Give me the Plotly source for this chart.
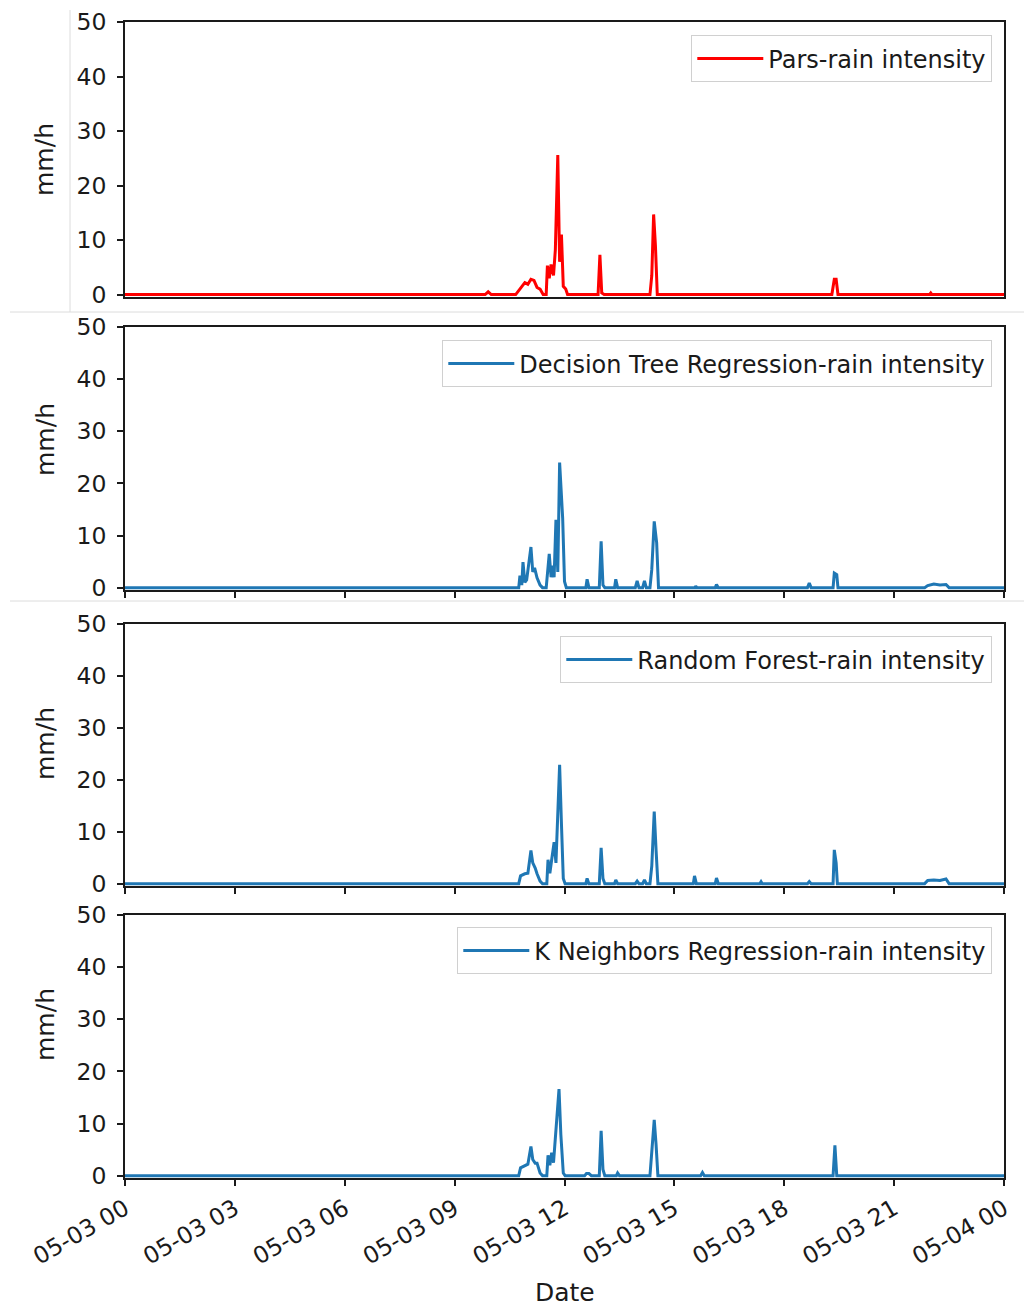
import plotly.graph_objects as go

# ---------------- data (hour:minute on 2023-05-03, value in mm/h) ----------------
pars_t = ["00:00", "09:50", "09:55", "10:00", "10:40", "10:45", "10:50", "10:55", "11:00", "11:05",
          "11:10", "11:15", "11:20", "11:25", "11:30", "11:32", "11:35", "11:38", "11:42", "11:45",
          "11:49", "11:52", "11:55", "11:58", "12:02", "12:05", "12:55", "12:58", "13:01", "13:05",
          "14:20", "14:23", "14:26", "14:29", "14:32", "19:18", "19:22", "19:25", "19:28", "21:58",
          "22:00", "22:02", "24:00"]
pars_v = [0, 0, 0.5, 0, 0, 0.8, 1.5, 2.2, 1.9, 2.8,
          2.6, 1.3, 1.0, 0, 0, 5.3, 3.0, 5.5, 3.5, 8.2,
          25.6, 6.0, 11.0, 1.5, 1.0, 0, 0, 7.3, 0.3, 0,
          0, 3.5, 14.7, 8.9, 0, 0, 2.8, 2.8, 0, 0,
          0.3, 0, 0]

dt_t = ["00:00", "10:45", "10:47", "10:50", "10:52", "10:55", "10:58", "11:05", "11:08", "11:11",
        "11:15", "11:20", "11:24", "11:30", "11:35", "11:38", "11:40", "11:43", "11:46", "11:49",
        "11:52", "11:57", "12:00", "12:03", "12:35", "12:37", "12:40", "12:57", "13:00", "13:03",
        "13:06", "13:22", "13:24", "13:27", "13:56", "13:59", "14:02", "14:08", "14:11", "14:14",
        "14:20", "14:23", "14:27", "14:31", "14:34", "15:34", "15:35", "15:37", "16:07", "16:09",
        "16:12", "18:38", "18:41", "18:44", "19:20", "19:22", "19:26", "19:28", "21:50", "21:55",
        "22:05", "22:15", "22:25", "22:30", "24:00"]
dt_v = [0, 0, 2.3, 0.5, 4.9, 1.0, 1.5, 7.8, 3.0, 3.8,
        1.9, 0.5, 0, 0, 6.5, 2.0, 4.2, 2.0, 13.0, 3.0,
        24.0, 13.3, 1.2, 0, 0, 1.6, 0, 0, 8.9, 0.5,
        0, 0, 1.6, 0, 0, 1.3, 0, 0, 1.3, 0,
        0, 3.5, 12.7, 8.6, 0, 0, 0.3, 0, 0, 0.6,
        0, 0, 0.9, 0, 0, 2.8, 2.5, 0, 0, 0.4,
        0.7, 0.5, 0.6, 0, 0]

rf_t = ["00:00", "10:45", "10:48", "10:55", "11:00", "11:05", "11:08", "11:12", "11:15", "11:20",
        "11:24", "11:31", "11:33", "11:36", "11:39", "11:43", "11:46", "11:52", "11:55", "11:58",
        "12:01", "12:35", "12:37", "12:40", "12:57", "13:00", "13:03", "13:06", "13:22", "13:24",
        "13:27", "13:56", "13:59", "14:02", "14:08", "14:11", "14:14", "14:20", "14:23", "14:27",
        "14:30", "14:33", "15:31", "15:33", "15:36", "16:07", "16:09", "16:12", "17:20", "17:22",
        "17:24", "18:38", "18:41", "18:44", "19:20", "19:22", "19:25", "19:27", "21:50", "21:55",
        "22:05", "22:15", "22:25", "22:30", "24:00"]
rf_v = [0, 0, 1.5, 1.9, 2.0, 6.4, 4.0, 3.0, 1.9, 0.5,
        0, 0, 4.6, 2.0, 4.6, 8.0, 4.0, 22.9, 11.5, 1.0,
        0, 0, 1.0, 0, 0, 6.9, 1.0, 0, 0, 0.7,
        0, 0, 0.5, 0, 0, 0.7, 0, 0, 3.4, 13.9,
        6.5, 0, 0, 1.5, 0, 0, 1.1, 0, 0, 0.4,
        0, 0, 0.4, 0, 0, 6.5, 4.0, 0, 0, 0.6,
        0.7, 0.6, 0.9, 0, 0]

knn_t = ["00:00", "10:45", "10:48", "10:55", "11:00", "11:05", "11:08", "11:12", "11:15", "11:20",
         "11:24", "11:31", "11:33", "11:36", "11:39", "11:42", "11:45", "11:51", "11:54", "11:58",
         "12:01", "12:33", "12:36", "12:40", "12:44", "12:57", "13:00", "13:03", "13:06", "13:25",
         "13:27", "13:30", "14:20", "14:23", "14:27", "14:30", "14:33", "15:43", "15:46", "15:49",
         "19:20", "19:23", "19:26", "24:00"]
knn_v = [0, 0, 1.5, 2.0, 2.2, 5.6, 3.1, 2.4, 2.4, 0.5,
         0, 0, 3.9, 2.0, 4.4, 2.5, 7.1, 16.6, 7.9, 0.5,
         0, 0, 0.4, 0.4, 0, 0, 8.6, 1.2, 0, 0,
         0.5, 0, 0, 4.7, 10.7, 6.0, 0, 0, 0.6, 0,
         0, 5.8, 0, 0]

series_names = ["Pars-rain intensity", "Decision Tree Regression-rain intensity",
                "Random Forest-rain intensity", "K Neighbors Regression-rain intensity"]
series_colors = ["#ff0000", "#1f77b4", "#1f77b4", "#1f77b4"]
y_ticks = [0, 10, 20, 30, 40, 50]
x_tick_labels = ["05-03 00", "05-03 03", "05-03 06", "05-03 09", "05-03 12",
                 "05-03 15", "05-03 18", "05-03 21", "05-04 00"]


def to_dt(hm):
    h, m = hm.split(":")
    if h == "24":
        return "2023-05-04 00:%s:00" % m
    return "2023-05-03 %s:%s:00" % (h, m)


# page has an 8px body margin, so the figure is 1024x1298 and all
# screen-pixel positions below are shifted by OFF
W, H = 1024, 1298
OFF = 8
FONT = "DejaVu Sans"
TXT = "#1a1a1a"

panels = [(22, 297), (327, 590), (624, 886), (915, 1178)]   # screen top, bottom
xl, xr = 125, 1004
legend_boxes = [(992, 35), (992, 340), (992, 636), (992, 927)]
ylabel_y = [160, 440, 744, 1025]


def px(x):
    return (x - OFF) / W


def py(y):
    return 1 - (y - OFF) / H


all_t = [pars_t, dt_t, rf_t, knn_t]
all_v = [pars_v, dt_v, rf_v, knn_v]

fig = go.Figure()
tickvals = ["2023-05-03 %02d:00:00" % h for h in range(0, 24, 3)] + ["2023-05-04 00:00:00"]

for i in range(4):
    sx = "" if i == 0 else str(i + 1)
    leg = "legend" if i == 0 else "legend%d" % (i + 1)
    fig.add_trace(go.Scatter(
        x=[to_dt(t) for t in all_t[i]], y=all_v[i], mode="lines",
        line=dict(color=series_colors[i], width=3),
        name=series_names[i], xaxis="x" + sx, yaxis="y" + sx,
        legend=leg, showlegend=True))

layout = dict(width=W, height=H, paper_bgcolor="white", plot_bgcolor="white",
              margin=dict(l=0, r=0, t=0, b=0, autoexpand=False),
              font=dict(family=FONT, color=TXT), showlegend=True)

for i in range(4):
    sx = "" if i == 0 else str(i + 1)
    top, bot = panels[i]
    xa = dict(domain=[px(xl), px(xr)], anchor="y" + sx,
              range=["2023-05-03 00:00:00", "2023-05-04 00:00:00"],
              tickvals=tickvals, ticktext=x_tick_labels, automargin=False,
              showgrid=False, zeroline=False, showline=True, linecolor="#1a1a1a",
              linewidth=1.6, mirror=True,
              ticks="" if i == 0 else "outside", ticklen=6, tickwidth=1.5,
              tickcolor="#1a1a1a",
              showticklabels=(i == 3), tickangle=-30,
              tickfont=dict(size=23.5, family=FONT, color=TXT))
    if i > 0:
        xa["matches"] = "x"
    ya = dict(domain=[py(bot), py(top)], anchor="x" + sx,
              range=[-0.45, 50], tickvals=y_ticks, automargin=False,
              showgrid=False, zeroline=False, showline=True, linecolor="#1a1a1a",
              linewidth=1.6, mirror=True, ticks="outside", ticklen=6, tickwidth=1.5,
              tickcolor="#1a1a1a", ticklabelstandoff=6,
              tickfont=dict(size=23.5, family=FONT, color=TXT))
    layout["xaxis" + sx] = xa
    layout["yaxis" + sx] = ya
    lx, ly = legend_boxes[i]
    layout["legend" if i == 0 else "legend%d" % (i + 1)] = dict(
        x=px(lx), y=py(ly), xanchor="right", yanchor="top",
        bgcolor="white", bordercolor="#d0d0d0", borderwidth=1.3, itemwidth=66,
        font=dict(size=24, family=FONT, color=TXT))

annotations = []
for i in range(4):
    annotations.append(dict(x=px(45), y=py(ylabel_y[i]), xref="paper", yref="paper",
                            xanchor="center", yanchor="middle",
                            text="mm/h", showarrow=False, textangle=-90,
                            font=dict(size=25, family=FONT, color=TXT)))
annotations.append(dict(x=px(565), y=py(1292), xref="paper", yref="paper",
                        xanchor="center", yanchor="middle",
                        text="Date", showarrow=False,
                        font=dict(size=25, family=FONT, color=TXT)))
layout["annotations"] = annotations


# faint screenshot borders seen in the reference
def pline(x0, y0, x1, y1):
    return dict(type="line", xref="paper", yref="paper",
                x0=px(x0), y0=py(y0), x1=px(x1), y1=py(y1),
                line=dict(color="#dcdcdc", width=1))


layout["shapes"] = [pline(70, 10, 70, 312), pline(10, 312, 1028, 312),
                    pline(1028, 10, 1028, 312), pline(10, 601, 1032, 601)]

fig.update_layout(**layout)
fig.write_html("out.html")
